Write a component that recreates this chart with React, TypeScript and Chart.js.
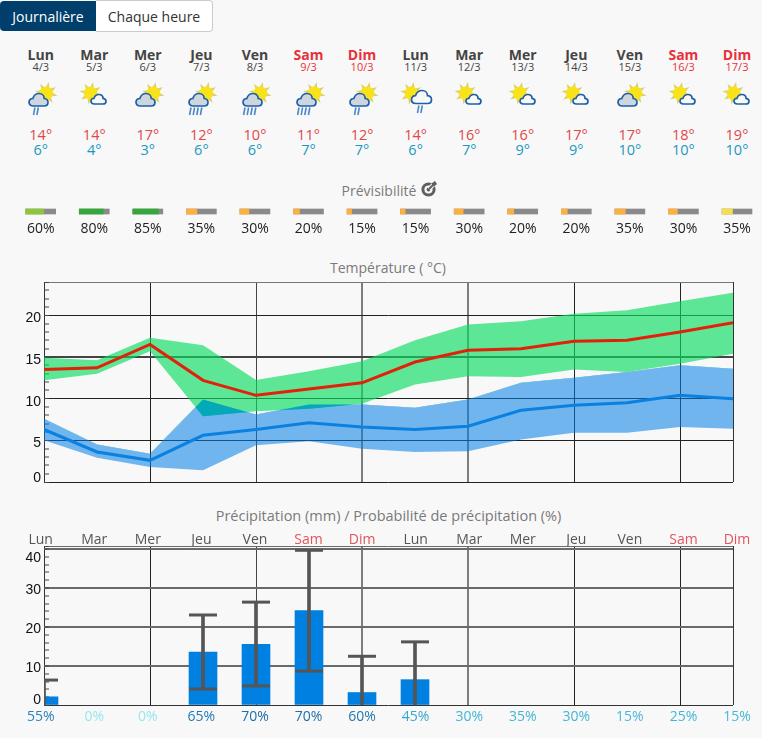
import React, { useEffect, useRef } from "react";
import { Chart, registerables } from "chart.js";

Chart.register(...registerables);

const weekdays = ["Lun", "Mar", "Mer", "Jeu", "Ven", "Sam", "Dim", "Lun", "Mar", "Mer", "Jeu", "Ven", "Sam", "Dim"];
const dates = ["4/3", "5/3", "6/3", "7/3", "8/3", "9/3", "10/3", "11/3", "12/3", "13/3", "14/3", "15/3", "16/3", "17/3"];
const labelTmax = [14, 14, 17, 12, 10, 11, 12, 14, 16, 16, 17, 17, 18, 19];
const labelTmin = [6, 4, 3, 6, 6, 7, 7, 6, 7, 9, 9, 10, 10, 10];
const iconCloud = ["big", "small", "big", "big", "big", "big", "big", "mid", "small", "small", "small", "big", "small", "small"];
const iconRain = [2, 0, 0, 4, 4, 4, 2, 2, 0, 0, 0, 0, 0, 0];

const predictability = [60, 80, 85, 35, 30, 20, 15, 15, 30, 20, 20, 35, 30, 35];
const predictabilityColors = ["#8cc63f", "#35a83c", "#35a83c", "#fbb040", "#fbb040", "#fbb040", "#fbb040", "#fbb040", "#fbb040", "#fbb040", "#fbb040", "#fbb040", "#fbb040", "#f2e04f"];

const tempMax = [13.5, 13.7, 16.5, 12.2, 10.4, 11.15, 11.9, 14.4, 15.8, 16, 16.9, 17, 18, 19.1];
const tempMaxHigh = [14.9, 14.6, 17.3, 16.4, 12.25, 13.3, 14.5, 17, 18.9, 19.3, 20.2, 20.6, 21.7, 22.7];
const tempMaxLow = [12.2, 13, 15.7, 7.9, 8.5, 8.8, 9.4, 11.7, 12.7, 12.6, 13.5, 13.2, 14.2, 15.4];
const tempMin = [6.3, 3.6, 2.6, 5.6, 6.3, 7.1, 6.6, 6.3, 6.7, 8.6, 9.2, 9.5, 10.4, 10];
const tempMinHigh = [7.6, 4.5, 3.4, 9.9, 8.1, 9.3, 9.3, 8.9, 9.9, 11.9, 12.5, 13.2, 14, 13.6];
const tempMinLow = [5, 2.9, 1.8, 1.4, 4.4, 4.9, 4, 3.6, 3.7, 5.1, 5.9, 5.9, 6.6, 6.4];

const precip = [2.1, 0, 0, 13.6, 15.6, 24.2, 3.2, 6.5, 0, 0, 0, 0, 0, 0];
const precipHigh = [6.4, null, null, 23.1, 26.4, 39.7, 12.5, 16.2, null, null, null, null, null, null];
const precipLow = [null, null, null, 4.1, 4.9, 8.7, null, null, null, null, null, null, null, null];
const precipProb = [55, 0, 0, 65, 70, 70, 60, 45, 30, 35, 30, 15, 25, 15];
const precipProbColors = ["#2a80b8", "#97e8ee", "#97e8ee", "#1f7ab5", "#1f6eaa", "#1f6eaa", "#2278b0", "#38a5cc", "#45b5d5", "#45b5d5", "#45b5d5", "#4ab8d8", "#45b5d5", "#4ab8d8"];
const precipAxisTicks = [0, 2, 4, 6, 8, 10, 12, 14, 16, 18, 20, 22, 24, 26, 28, 30, 32, 34, 36, 38, 40, 40.8];

const FONT = '"Open Sans", sans-serif';
const AXISFONT = '"Liberation Sans", Arial, sans-serif';
const DAY_RED = "#e8313a";
const COL0 = 40.7;
const COLW = 53.56;
const colX = (i: number) => COL0 + COLW * i;
const isWeekend = (i: number) => i === 5 || i === 6 || i === 12 || i === 13;

const AREA_LEFT = 44;
const AREA_RIGHT_PAD = 29;
const CANVAS_W = 762;
const AREA_W = CANVAS_W - AREA_LEFT - AREA_RIGHT_PAD;
const colMin = (AREA_LEFT - COL0) / COLW;
const colMax = colMin + AREA_W / COLW;

const vColor = (v: number) => {
  if (v === 0 || v === 13) return "#333333";
  if (v === 6 || v === 8) return "#7d7d7d";
  if (v === 4) return "#444444";
  if (v % 2 === 0) return "#222222";
  return "rgba(0,0,0,0)";
};
const vWidth = (v: number) => {
  if (v === 6 || v === 8) return 2;
  return v % 2 === 0 || v === 13 ? 1 : 0;
};

const verticalGrid = {
  offset: false,
  color: (c: any) => vColor(c.tick?.value ?? 1),
  lineWidth: (c: any) => vWidth(c.tick?.value ?? 1),
  drawTicks: false,
};

function useChart(ref: React.RefObject<HTMLCanvasElement | null>, make: () => any) {
  useEffect(() => {
    const chart = new Chart(ref.current as HTMLCanvasElement, make());
    return () => chart.destroy();
  }, []);
}

function TempChart() {
  const ref = useRef<HTMLCanvasElement>(null);
  useChart(ref, () => {
    const pts = (a: number[]) => a.map((y, x) => ({ x, y }));
    const band = { pointRadius: 0, borderWidth: 0, tension: 0 };
    return {
      type: "line",
      data: {
        datasets: [
          { label: "Tmax", data: pts(tempMax), borderColor: "#e3200a", borderWidth: 3, pointRadius: 0, fill: false, order: 0 },
          { label: "Tmin", data: pts(tempMin), borderColor: "#0a80e0", borderWidth: 3, pointRadius: 0, fill: false, order: 1 },
          { label: "Tmin haut", data: pts(tempMinHigh), ...band, fill: "+1", backgroundColor: "rgba(0,125,230,0.55)", order: 3 },
          { label: "Tmin bas", data: pts(tempMinLow), ...band, fill: false, order: 4 },
          { label: "Tmax haut", data: pts(tempMaxHigh), ...band, fill: "+1", backgroundColor: "rgba(8,220,95,0.65)", order: 5 },
          { label: "Tmax bas", data: pts(tempMaxLow), ...band, fill: false, order: 6 },
          { label: "Recouvrement", data: pts(tempMaxLow), ...band, fill: { target: 2, above: "rgba(0,0,0,0)", below: "rgba(0,169,181,0.92)" }, order: 2 },
        ],
      },
      options: {
        animation: false,
        responsive: false,
        layout: { padding: { top: 10, bottom: 2, left: 0, right: AREA_RIGHT_PAD } },
        plugins: { legend: { display: false }, tooltip: { enabled: false } },
        scales: {
          x: {
            type: "linear",
            min: 0,
            max: 13,
            ticks: { display: false, stepSize: 1 },
            border: { display: false },
            grid: verticalGrid,
            afterFit: (s: any) => { s.height = 0; s.paddingLeft = 0; s.paddingRight = 0; },
          },
          y: {
            min: 0,
            max: 24,
            ticks: {
              stepSize: 1,
              autoSkip: false,
              padding: 8,
              labelOffset: 3,
              color: "#111111",
              font: { family: AXISFONT, size: 14, lineHeight: 1 },
              callback: (v: number) => (v === 0 ? ["0", ""] : v % 5 === 0 ? String(v) : ""),
            },
            border: { display: false },
            grid: {
              color: (c: any) => {
                const v = c.tick?.value ?? 1;
                if (v === 24) return "#777777";
                if (v === 15) return "#444444";
                return v % 5 === 0 ? "#222222" : "rgba(0,0,0,0)";
              },
              lineWidth: (c: any) => {
                const v = c.tick?.value ?? 1;
                if (v === 15) return 2;
                return v % 5 === 0 || v === 24 ? 1 : 0;
              },
              tickLength: -5,
              tickColor: "#444444",
              tickWidth: 1,
            },
            afterFit: (s: any) => { s.width = AREA_LEFT; s.paddingTop = 0; s.paddingBottom = 0; },
          },
        },
      },
    };
  });
  return <canvas ref={ref} width={CANVAS_W} height={212} style={{ position: "absolute", left: 0, top: 272 }} />;
}

function PrecipChart() {
  const ref = useRef<HTMLCanvasElement>(null);
  useChart(ref, () => {
    const bars = precip.map((y, x) => ({ x, y })).filter((p) => p.y > 0);
    const stems = precipHigh
      .map((h, x) => (h === null ? null : { x, y: [precipLow[x] ?? 0, h] }))
      .filter(Boolean);
    const caps = [...precipHigh, ...precipLow]
      .map((y, i) => ({ x: i % precipHigh.length, y }))
      .filter((p) => p.y !== null);
    const columnTicks = (s: any) => { s.ticks = weekdays.map((_, i) => ({ value: i })); };
    return {
      type: "bar",
      data: {
        datasets: [
          { type: "scatter", label: "Bornes", data: caps, pointStyle: "line", pointRadius: 14, pointBorderWidth: 3, pointBorderColor: "#555555", pointBackgroundColor: "#555555", order: 0 },
          { label: "Étendue", data: stems, backgroundColor: "#555555", barThickness: 3, grouped: false, order: 1 },
          { label: "Précipitation", data: bars, backgroundColor: "#0080e0", barThickness: 28, grouped: false, order: 2 },
        ],
      },
      options: {
        animation: false,
        responsive: false,
        layout: { padding: { top: 0, bottom: 0, left: 0, right: AREA_RIGHT_PAD } },
        plugins: { legend: { display: false }, tooltip: { enabled: false } },
        scales: {
          x: {
            type: "linear",
            min: 0,
            max: 13,
            offset: false,
            ticks: { display: false, stepSize: 1 },
            border: { display: false },
            grid: verticalGrid,
            afterFit: (s: any) => { s.height = 0; s.paddingLeft = 0; s.paddingRight = 0; },
          },
          xDays: {
            type: "linear",
            position: "top",
            offset: false,
            min: colMin,
            max: colMax,
            afterBuildTicks: columnTicks,
            ticks: {
              autoSkip: false,
              maxRotation: 0,
              padding: -2,
              color: (c: any) => (isWeekend(c.index) ? "#e0555c" : "#555555"),
              font: { family: FONT, size: 14 },
              callback: (_v: number, i: number) => weekdays[i],
            },
            border: { display: false },
            grid: { display: false, drawTicks: false, offset: false },
            afterFit: (s: any) => { s.height = 21; s.paddingLeft = 0; s.paddingRight = 0; },
          },
          xProb: {
            type: "linear",
            position: "bottom",
            offset: false,
            min: colMin,
            max: colMax,
            afterBuildTicks: columnTicks,
            ticks: {
              autoSkip: false,
              maxRotation: 0,
              padding: 3.5,
              color: (c: any) => precipProbColors[c.index],
              font: { family: FONT, size: 14 },
              callback: (_v: number, i: number) => `${precipProb[i]}%`,
            },
            border: { display: false },
            grid: { display: false, drawTicks: false, offset: false },
            afterFit: (s: any) => { s.height = 28; s.paddingLeft = 0; s.paddingRight = 0; },
          },
          y: {
            min: 0,
            max: 40.8,
            afterBuildTicks: (s: any) => { s.ticks = precipAxisTicks.map((value) => ({ value })); },
            ticks: {
              autoSkip: false,
              padding: 8,
              labelOffset: 2.5,
              color: "#111111",
              font: { family: AXISFONT, size: 14, lineHeight: 1 },
              callback: (v: number) => (v === 0 ? ["0", ""] : v === 40 ? ["", "40"] : v % 10 === 0 ? String(v) : ""),
            },
            border: { display: false },
            grid: {
              color: (c: any) => {
                const v = c.tick?.value ?? 1;
                if (v === 0) return "#333333";
                return v % 10 === 0 || v > 40 ? "#6a6a6a" : "rgba(0,0,0,0)";
              },
              lineWidth: (c: any) => {
                const v = c.tick?.value ?? 1;
                if (v === 0 || v > 40) return 1;
                return v % 10 === 0 ? 2 : 0;
              },
              tickLength: -5,
              tickColor: "#444444",
              tickWidth: 1,
            },
            afterFit: (s: any) => { s.width = AREA_LEFT; s.paddingTop = 0; s.paddingBottom = 0; },
          },
        },
      },
    };
  });
  return <canvas ref={ref} width={CANVAS_W} height={208} style={{ position: "absolute", left: 0, top: 525 }} />;
}

function PredictabilityChart() {
  const ref = useRef<HTMLCanvasElement>(null);
  useChart(ref, () => {
    const half = 15 / COLW;
    const track = predictability.map((_, i) => ({ x: [i - half, i + half], y: "p" }));
    const share = predictability.map((p, i) => ({ x: [i - half, i - half + (2 * half * p) / 100], y: "p" }));
    return {
      type: "bar",
      data: {
        labels: ["p"],
        datasets: [
          { label: "Prévisibilité", data: share, backgroundColor: predictabilityColors, barThickness: 5, grouped: false, order: 0 },
          { label: "Total", data: track, backgroundColor: "#8a8a8a", barThickness: 5, grouped: false, order: 1 },
        ],
      },
      options: {
        indexAxis: "y",
        animation: false,
        responsive: false,
        plugins: { legend: { display: false }, tooltip: { enabled: false } },
        scales: {
          y: { display: false, type: "category" },
          x: {
            type: "linear",
            min: -COL0 / COLW,
            max: (CANVAS_W - COL0) / COLW,
            afterBuildTicks: (s: any) => { s.ticks = predictability.map((_, i) => ({ value: i })); },
            ticks: {
              autoSkip: false,
              maxRotation: 0,
              padding: 3,
              color: "#222222",
              font: { family: FONT, size: 14 },
              callback: (_v: number, i: number) => `${predictability[i]}%`,
            },
            border: { display: false },
            grid: { display: false, drawTicks: false },
            afterFit: (s: any) => { s.height = 25; s.paddingLeft = 0; s.paddingRight = 0; },
          },
        },
      },
    };
  });
  return <canvas ref={ref} width={CANVAS_W} height={38} style={{ position: "absolute", left: 0, top: 205 }} />;
}

function Cloud({ x, y, w, h, fill }: { x: number; y: number; w: number; h: number; fill: string }) {
  return (
    <path
      transform={`translate(${x} ${y}) scale(${w / 20} ${h / 13})`}
      d="M4.5 13C1.5 13 0 11 0 9C0 6.5 2 5 4 5.2C5 2 7.5 0 10.5 0C14 0 16 2.5 16 5.2C18.5 5.5 20 7 20 9.2C20 11.5 18.3 13 16 13Z"
      fill={fill}
      stroke="#1d5fa8"
      strokeWidth={1.7}
      vectorEffect="non-scaling-stroke"
    />
  );
}

function Sun({ cx, cy }: { cx: number; cy: number }) {
  const rays = [0, 45, 90, 135, 180, 225, 270, 315];
  return (
    <g>
      {rays.map((a) => {
        const r = ((a + 12) * Math.PI) / 180;
        const nx = -Math.sin(r) * 1.9;
        const ny = Math.cos(r) * 1.9;
        const bx = cx + 5.5 * Math.cos(r);
        const by = cy + 5.5 * Math.sin(r);
        return (
          <polygon key={a} points={`${bx + nx},${by + ny} ${bx - nx},${by - ny} ${cx + 11.5 * Math.cos(r)},${cy + 11.5 * Math.sin(r)}`} fill="#dcd264" />
        );
      })}
      <circle cx={cx} cy={cy} r={6.8} fill="#fae21a" />
    </g>
  );
}

function Rain({ x, y, n }: { x: number; y: number; n: number }) {
  const gap = n === 4 ? 3.6 : 3.4;
  return (
    <g>
      {Array.from({ length: n }).map((_, k) => (
        <line key={k} x1={x + k * gap + 1.4} y1={y} x2={x + k * gap} y2={y + 7.5} stroke="#4a88c8" strokeWidth={1.6} />
      ))}
    </g>
  );
}

function WeatherIcon({ i }: { i: number }) {
  const kind = iconCloud[i];
  const rain = iconRain[i];
  return (
    <svg width={40} height={40} style={{ position: "absolute", left: colX(i) - 20, top: 80 }}>
      {kind === "big" && (
        <>
          <Sun cx={25.3} cy={13.3} />
          <Cloud x={8} y={13.5} w={19} h={12.5} fill="#cdd5de" />
          {rain > 0 && <Rain x={rain === 4 ? 8.6 : 12.5} y={27.5} n={rain} />}
        </>
      )}
      {kind === "small" && (
        <>
          <Sun cx={16.7} cy={13.3} />
          <Cloud x={17} y={14.5} w={15} h={9.5} fill="#f8f8f8" />
        </>
      )}
      {kind === "mid" && (
        <>
          <Sun cx={15.4} cy={13.3} />
          <Cloud x={15.5} y={10.5} w={20} h={13} fill="#f8f8f8" />
          <Rain x={21.5} y={25.5} n={2} />
        </>
      )}
    </svg>
  );
}

const abs = (o: React.CSSProperties): React.CSSProperties => ({ position: "absolute", ...o });

function Centered({ x, y, color, size, weight, children }: any) {
  return (
    <div style={abs({ left: x - 40, width: 80, top: y - 12, height: 24, lineHeight: "24px", textAlign: "center", color, fontSize: size, fontWeight: weight ?? 400, fontFamily: FONT, whiteSpace: "nowrap" })}>
      {children}
    </div>
  );
}

export default function App() {
  return (
    <div style={{ position: "relative", width: 762, height: 738, overflow: "hidden", background: "#f8f8f8" }}>
      <style>{`html,body{margin:0;padding:0;background:#f8f8f8;overflow:hidden}`}</style>

      <div style={abs({ left: 0, top: 1, width: 96, height: 30, background: "#003f6b", color: "#ffffff", borderRadius: "4px 0 0 4px", textAlign: "center", lineHeight: "31px", fontSize: 14, fontFamily: FONT })}>Journalière</div>
      <div style={abs({ left: 96, top: 0, width: 116, height: 30, boxSizing: "content-box", background: "#ffffff", color: "#333333", border: "1px solid #cccccc", borderLeft: "none", borderRadius: "0 4px 4px 0", textAlign: "center", lineHeight: "31px", fontSize: 14, fontFamily: FONT })}>Chaque heure</div>

      {weekdays.map((d, i) => (
        <React.Fragment key={i}>
          <Centered x={colX(i)} y={55} color={isWeekend(i) ? DAY_RED : "#444444"} size={14} weight={700}>{d}</Centered>
          <Centered x={colX(i)} y={67} color={isWeekend(i) ? DAY_RED : "#444444"} size={11}>{dates[i]}</Centered>
          <WeatherIcon i={i} />
          <Centered x={colX(i)} y={134.5} color="#e04848" size={14.5}>{labelTmax[i]}°</Centered>
          <Centered x={colX(i)} y={149.5} color="#1a98c0" size={14.5}>{labelTmin[i]}°</Centered>
        </React.Fragment>
      ))}

      <div style={abs({ left: 0, width: 758, top: 180, height: 22, lineHeight: "22px", textAlign: "center", fontSize: 14, color: "#7a7a7a", fontFamily: FONT })}>Prévisibilité</div>
      <svg width={16} height={16} style={{ position: "absolute", left: 421, top: 181 }}>
        <circle cx={7.5} cy={8.5} r={5.6} fill="none" stroke="#5f5f5f" strokeWidth={3} />
        <circle cx={7.5} cy={8.5} r={1.9} fill="#5f5f5f" />
        <path d="M8 8L14 2" stroke="#f8f8f8" strokeWidth={4} />
        <path d="M8 8L14 2" stroke="#5f5f5f" strokeWidth={2} />
        <path d="M10.5 2.5L14 0L16 3L13 5.5Z" fill="#5f5f5f" />
      </svg>
      <PredictabilityChart />

      <div style={abs({ left: 0, width: 776, top: 257, height: 22, lineHeight: "22px", textAlign: "center", fontSize: 14, color: "#7a7a7a", fontFamily: FONT })}>Température ( °C)</div>
      <TempChart />

      <div style={abs({ left: 0, width: 777, top: 505, height: 22, lineHeight: "22px", textAlign: "center", fontSize: 14.5, color: "#7a7a7a", fontFamily: FONT })}>Précipitation (mm) / Probabilité de précipitation (%)</div>
      <PrecipChart />
    </div>
  );
}
